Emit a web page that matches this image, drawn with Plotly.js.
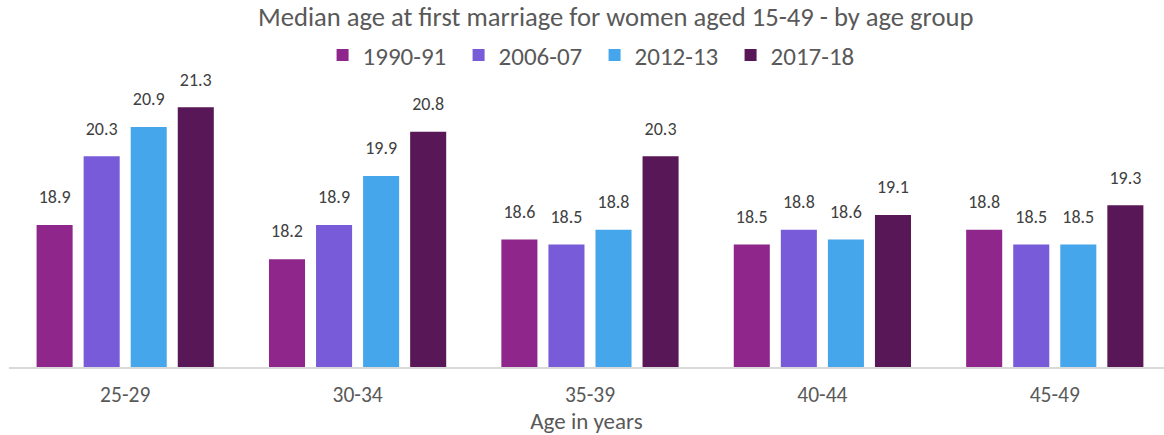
<!DOCTYPE html>
<html><head><meta charset="utf-8">
<script src="https://cdn.plot.ly/plotly-3.0.1.min.js"></script>
<style>html,body{margin:0;padding:0;background:#fff}#chart{width:1164px;height:435px}</style>
</head><body><div id="chart"></div>
<script>
const categories = ["25-29", "30-34", "35-39", "40-44", "45-49"];
const seriesNames = ["1990-91", "2006-07", "2012-13", "2017-18"];
const v1990 = [18.9, 18.2, 18.6, 18.5, 18.8];
const v2006 = [20.3, 18.9, 18.5, 18.8, 18.5];
const v2012 = [20.9, 19.9, 18.8, 18.6, 18.5];
const v2017 = [21.3, 20.8, 20.3, 19.1, 19.3];
const colors = ["#8E268B", "#775BD8", "#45A6EB", "#581756"];
const values = [v1990, v2006, v2012, v2017];

const font = "Carlito, Calibri, 'Open Sans', 'Liberation Sans', sans-serif";
const bars = values.map((vals, i) => ({
  type: "bar",
  name: seriesNames[i],
  x: categories,
  y: vals,
  marker: {color: colors[i]},
  hoverinfo: "skip"
}));
const labels = values.map((vals, i) => ({
  type: "scatter",
  mode: "markers+text",
  showlegend: false,
  x: categories,
  y: vals,
  marker: {size: 26, opacity: 0, color: colors[i]},
  text: vals.map(v => v.toFixed(1)),
  textposition: "top center",
  cliponaxis: false,
  textfont: {family: font, size: 18, color: "#404040"},
  hoverinfo: "skip"
}));

const layout = {
  width: 1164, height: 435,
  margin: {l: 9, r: 0, t: 73, b: 68},
  paper_bgcolor: "#fff", plot_bgcolor: "#fff",
  font: {family: font, color: "#595959"},
  title: {text: "Median age at first marriage for women aged 15-49 - by age group",
          font: {family: font, size: 26.6, color: "#595959"}, x: 0.529, xanchor: "center", y: 0.962, yanchor: "middle"},
  showlegend: true,
  legend: {orientation: "h", x: 0.507, xanchor: "center", y: 1.06, yanchor: "middle",
           entrywidth: 91, entrywidthmode: "pixels",
           font: {family: font, size: 25, color: "#595959"}, traceorder: "normal"},
  barmode: "group", scattermode: "group",
  bargap: 0.19, bargroupgap: 0.234, scattergap: 0.19,
  xaxis: {showline: true, linecolor: "#d9d9d9", linewidth: 2, ticks: "", range: [-0.5, 4.47],
          ticklabelstandoff: 7,
          tickfont: {family: font, size: 21.5, color: "#595959"},
          title: {text: "Age in years", font: {family: font, size: 23, color: "#595959"}, standoff: 6}},
  yaxis: {range: [16, 22], visible: false, showgrid: false, zeroline: false}
};
Plotly.newPlot("chart", bars.concat(labels), layout, {displayModeBar: false});
</script></body></html>
